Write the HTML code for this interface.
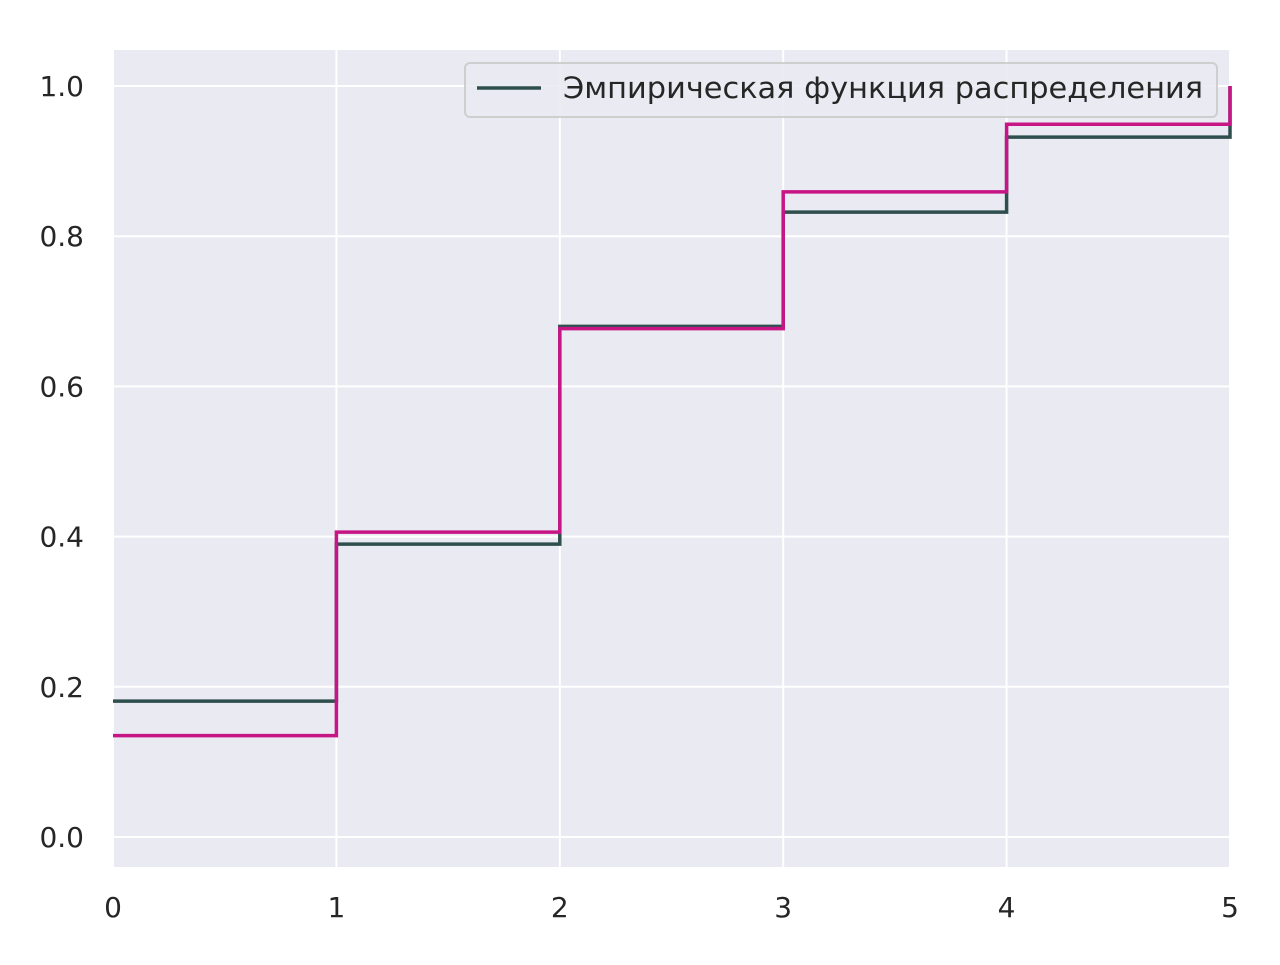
<!DOCTYPE html>
<html><head><meta charset="utf-8"><style>
body{margin:0;background:#fff;}
svg text{font-family:"DejaVu Sans","Liberation Sans",sans-serif;fill:#262626;}
</style></head><body>
<svg id="chart" width="1280" height="960">
<rect x="113" y="50" width="1117" height="817" fill="#eaeaf2"/>
<g id="grid"></g><g id="series"></g><g id="ticks"></g>
<g>
<rect x="465" y="63" width="752" height="54" rx="5" fill="#eaeaf2" stroke="#cccccc" stroke-width="2" opacity="0.9"/>
<line x1="477" y1="88" x2="541" y2="88" stroke="#2f4f4f" stroke-width="3.5"/>
<text x="563" y="98" font-size="29" textLength="640" lengthAdjust="spacingAndGlyphs">Эмпирическая функция распределения</text>
</g>
</svg>
<script>
const xCats=[0,1,2,3,4,5];
const empirical=[0.181,0.390,0.680,0.832,0.932,1.0];
const theoretical=[0.135,0.406,0.677,0.859,0.949,1.0];
const yTicks=[0,0.2,0.4,0.6,0.8,1.0];
const yTickLabels=["0.0","0.2","0.4","0.6","0.8","1.0"];
const xTickLabels=["0","1","2","3","4","5"];
const NS="http://www.w3.org/2000/svg";
const X=v=>113+v*223.4, Y=v=>837-v*751;
const grid=document.getElementById('grid'),ticks=document.getElementById('ticks'),ser=document.getElementById('series');
function mk(t,a,p){const e=document.createElementNS(NS,t);for(const k in a)e.setAttribute(k,a[k]);p.appendChild(e);return e;}
yTicks.forEach((v,i)=>{
 const l=mk('line',{x1:113,x2:1230,y1:Y(v),y2:Y(v),stroke:'#fff','stroke-width':2},grid);
 
 
 const t=mk('text',{x:84,y:Y(v)+10,'font-size':28,'text-anchor':'end'},ticks);t.textContent=yTickLabels[i];
 
 
});
xCats.forEach((v,i)=>{
 const l=mk('line',{x1:X(v),x2:X(v),y1:50,y2:867,stroke:'#fff','stroke-width':2},grid);
 
 
 const t=mk('text',{x:X(v),y:917,'font-size':28,'text-anchor':'middle'},ticks);t.textContent=xTickLabels[i];
 
 
});
function stepPath(vals){
 let d=`M${X(0)},${Y(vals[0])}`;
 for(let i=0;i<vals.length-1;i++){d+=` H${X(i+1)} V${Y(vals[i+1])}`;}
 return d;
}
const p1=mk('path',{d:stepPath(empirical),fill:'none',stroke:'#2f4f4f','stroke-width':3.5},ser);


const p2=mk('path',{d:stepPath(theoretical),fill:'none',stroke:'#c71585','stroke-width':3.5},ser);


</script>
</body></html>
